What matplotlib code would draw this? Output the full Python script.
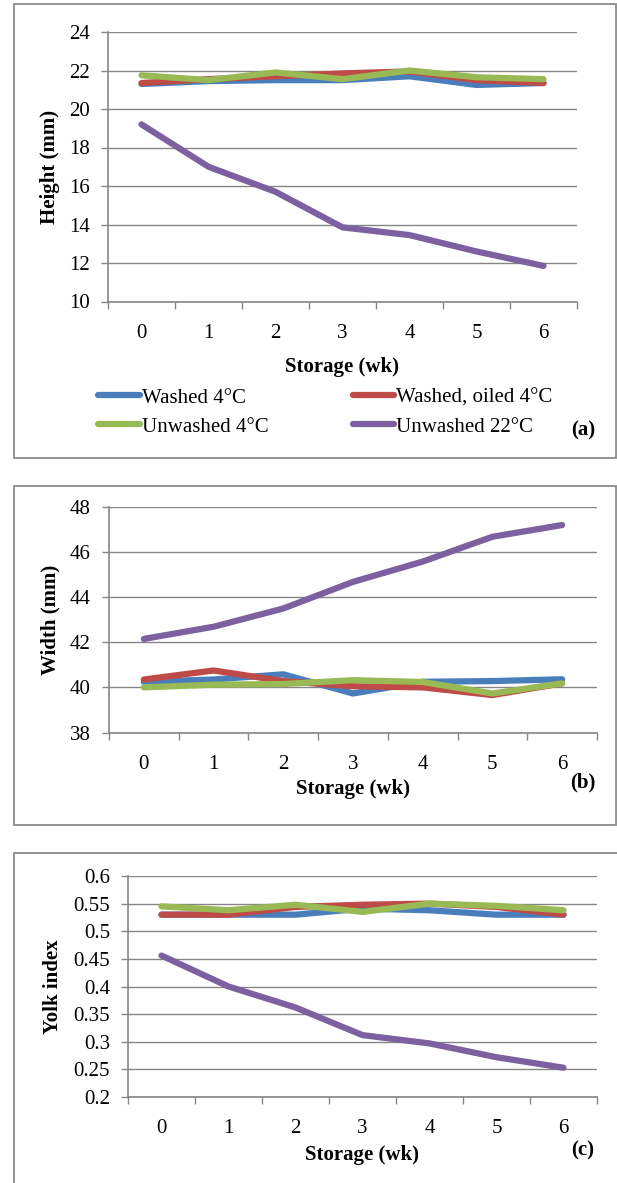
import matplotlib.pyplot as plt
from matplotlib.patches import Rectangle

plt.rcParams['font.family'] = ['Liberation Serif', 'DejaVu Serif']

weeks = [0, 1, 2, 3, 4, 5, 6]
series_names = ['Washed 4°C', 'Washed, oiled 4°C', 'Unwashed 4°C', 'Unwashed 22°C']
colors = ['#4A7EBB', '#BE4B48', '#98B954', '#7D60A0']

height_washed = [21.3, 21.45, 21.5, 21.5, 21.7, 21.25, 21.35]
height_oiled = [21.35, 21.55, 21.7, 21.85, 21.95, 21.5, 21.35]
height_unwashed = [21.75, 21.5, 21.9, 21.55, 22.0, 21.65, 21.55]
height_unwashed22 = [19.2, 17.0, 15.7, 13.85, 13.45, 12.6, 11.85]

width_washed = [40.25, 40.35, 40.58, 39.73, 40.25, 40.28, 40.36]
width_oiled = [40.35, 40.75, 40.28, 40.05, 40.0, 39.66, 40.18]
width_unwashed = [40.0, 40.12, 40.15, 40.32, 40.24, 39.73, 40.18]
width_unwashed22 = [42.15, 42.69, 43.5, 44.68, 45.58, 46.68, 47.2]

yolk_washed = [0.530, 0.530, 0.530, 0.541, 0.538, 0.530, 0.530]
yolk_oiled = [0.530, 0.530, 0.544, 0.548, 0.550, 0.544, 0.530]
yolk_unwashed = [0.545, 0.538, 0.548, 0.535, 0.550, 0.546, 0.538]
yolk_unwashed22 = [0.456, 0.400, 0.362, 0.312, 0.297, 0.272, 0.253]

W, H = 617, 1183
fig = plt.figure(figsize=(W / 100, H / 100), dpi=100)


def fx(px):
    return px / W


def fy(py):
    return 1 - py / H


def axes_px(left, right, top, bottom):
    return fig.add_axes([fx(left), fy(bottom), fx(right) - fx(left), (bottom - top) / H])


grey = '#868686'
fs = 15


def style(ax, ylim, yticks, ylabels, ylabel):
    ax.set_xlim(-0.5, 6.5)
    ax.set_ylim(*ylim)
    ax.set_yticks(yticks)
    ax.set_yticklabels(ylabels, fontsize=fs)
    ax.set_xticks(weeks)
    ax.set_xticklabels([str(w) for w in weeks], fontsize=fs)
    ax.set_xticks([w - 0.5 for w in weeks] + [6.5], minor=True)
    ax.tick_params(axis='x', which='major', length=0, pad=16)
    ax.tick_params(axis='x', which='minor', length=5, width=1, color=grey, direction='out')
    ax.tick_params(axis='y', length=5, width=1, color=grey, pad=8)
    ax.grid(axis='y', color=grey, lw=1)
    ax.set_axisbelow(True)
    for s in ['top', 'right']:
        ax.spines[s].set_visible(False)
    for s in ['left', 'bottom']:
        ax.spines[s].set_color(grey)
        ax.spines[s].set_linewidth(1.2)
    ax.set_ylabel(ylabel, fontsize=fs, fontweight='bold')


def draw(ax, data):
    lines = []
    for vals, c in zip(data, colors):
        ln, = ax.plot(weeks, vals, color=c, lw=4.5, solid_capstyle='round',
                      solid_joinstyle='round', clip_on=False)
        lines.append(ln)
    return lines


# panel frames
for (l, t, r, b) in [(14, 4, 616, 458), (14, 486, 616, 825), (14, 853, 625, 1195)]:
    fig.patches.append(Rectangle((fx(l), fy(b)), fx(r) - fx(l), (b - t) / H,
                                 transform=fig.transFigure, fill=False,
                                 edgecolor='#8a8a8a', lw=1.3))

# (a) height
ax1 = axes_px(108, 577, 32, 301.5)
lines = draw(ax1, [height_washed, height_oiled, height_unwashed, height_unwashed22])
style(ax1, (10, 24), range(10, 25, 2), [str(v) for v in range(10, 25, 2)], 'Height (mm)')
ax1.yaxis.set_label_coords((60 - 108) / 469, 0.5)
fig.text(fx(342), fy(367), 'Storage (wk)', fontsize=fs, fontweight='bold', ha='center', va='center')
fig.legend([lines[0], lines[2], lines[1], lines[3]],
           [series_names[0], series_names[2], series_names[1], series_names[3]],
           ncol=2, loc='upper left', bbox_to_anchor=(fx(98), fy(388)), frameon=False,
           fontsize=fs, handlelength=2.0, handletextpad=0.1, columnspacing=4.05,
           labelspacing=0.45, borderaxespad=0, borderpad=0)
fig.text(fx(583), fy(430), '(a)', fontsize=fs, fontweight='bold', ha='center', va='center')

# (b) width
ax2 = axes_px(109, 597, 507, 732.5)
draw(ax2, [width_washed, width_oiled, width_unwashed, width_unwashed22])
style(ax2, (38, 48), range(38, 49, 2), [str(v) for v in range(38, 49, 2)], 'Width (mm)')
ax2.yaxis.set_label_coords((60 - 109) / 488, 0.5)
fig.text(fx(353), fy(789), 'Storage (wk)', fontsize=fs, fontweight='bold', ha='center', va='center')
fig.text(fx(583), fy(782), '(b)', fontsize=fs, fontweight='bold', ha='center', va='center')

# (c) yolk index
ax3 = axes_px(128, 597, 876, 1097)
draw(ax3, [yolk_washed, yolk_oiled, yolk_unwashed, yolk_unwashed22])
yt = [0.2, 0.25, 0.3, 0.35, 0.4, 0.45, 0.5, 0.55, 0.6]
style(ax3, (0.2, 0.6), yt, ['0.2', '0.25', '0.3', '0.35', '0.4', '0.45', '0.5', '0.55', '0.6'], 'Yolk index')
ax3.yaxis.set_label_coords((63 - 128) / 469, 0.5)
fig.text(fx(362), fy(1155), 'Storage (wk)', fontsize=fs, fontweight='bold', ha='center', va='center')
fig.text(fx(583), fy(1150), '(c)', fontsize=fs, fontweight='bold', ha='center', va='center')

fig.savefig('out.png', dpi=100)
